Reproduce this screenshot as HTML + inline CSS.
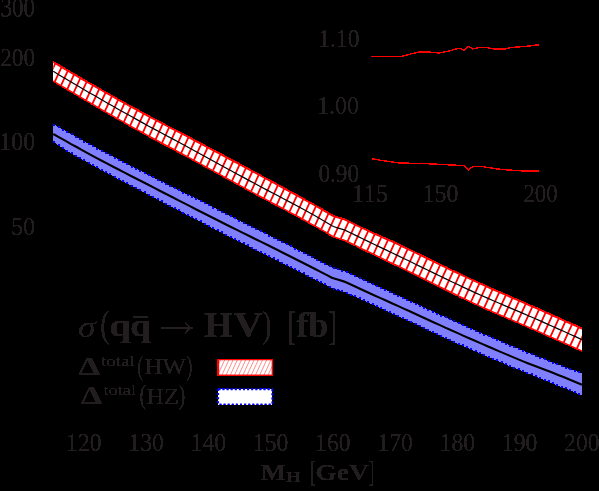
<!DOCTYPE html>
<html><head><meta charset="utf-8"><title>plot</title>
<style>
html,body{margin:0;padding:0;background:#000;}
body{width:599px;height:491px;overflow:hidden;position:relative;}
svg{position:absolute;left:0;top:0;display:block;}
text{font-family:"Liberation Serif",serif;fill:#231f20;}
</style></head><body>
<svg width="599" height="491" viewBox="0 0 599 491">
<defs>
<filter id="gth" x="0" y="0" width="599" height="491" filterUnits="userSpaceOnUse" color-interpolation-filters="sRGB"><feComponentTransfer><feFuncA type="discrete" tableValues="0 1 1 1 1 1 1 1 1 1 1 1"/></feComponentTransfer></filter>
<filter id="ath" x="0" y="0" width="599" height="491" filterUnits="userSpaceOnUse" color-interpolation-filters="sRGB"><feComponentTransfer><feFuncA type="discrete" tableValues="0 0 0 0 0 0 1 1 1 1 1 1 1 1 1 1 1 1 1 1"/></feComponentTransfer></filter>
<clipPath id="rc"><polygon points="53.3,62.1 59.2,65.7 65.2,69.2 71.1,72.7 77.1,76.2 83.0,79.7 88.9,83.1 94.9,86.5 100.8,89.9 106.8,93.3 112.7,96.6 118.6,100.0 124.6,103.3 130.5,106.6 136.5,109.8 142.4,113.0 148.3,116.2 154.3,119.4 160.2,122.5 166.1,125.6 172.1,128.7 178.0,131.8 184.0,134.9 189.9,138.0 195.8,141.2 201.8,144.4 207.7,147.5 213.7,150.7 219.6,153.8 225.5,157.0 231.5,160.2 237.4,163.3 243.4,166.5 249.3,169.7 255.2,172.9 261.2,176.1 267.1,179.3 273.1,182.5 279.0,185.8 284.9,189.0 290.9,192.2 296.8,195.5 302.8,198.8 308.7,202.1 314.6,205.4 320.6,208.8 326.5,212.2 332.4,215.7 332.6,215.8 333.4,216.2 338.4,217.8 344.3,219.6 344.6,219.7 344.8,219.8 350.3,222.4 356.2,225.2 362.1,228.1 368.1,230.9 374.0,233.7 380.0,236.3 385.9,239.0 391.8,241.6 397.8,244.3 403.7,247.2 409.7,250.0 415.6,252.9 421.5,255.8 427.5,258.7 433.4,261.6 439.4,264.5 445.3,267.3 451.2,270.2 457.2,273.0 463.1,275.8 469.1,278.6 475.0,281.4 480.9,284.1 486.9,286.7 492.8,289.4 498.7,292.0 504.7,294.6 510.6,297.2 516.6,299.7 522.5,302.3 528.4,304.9 534.4,307.5 540.3,310.1 546.3,312.8 552.2,315.4 558.1,318.1 564.1,320.7 570.0,323.4 576.0,326.0 581.9,328.7 581.9,350.9 576.0,348.2 570.0,345.5 564.1,342.9 558.1,340.2 552.2,337.6 546.3,335.0 540.3,332.3 534.4,329.7 528.4,327.1 522.5,324.5 516.6,322.0 510.6,319.4 504.7,316.9 498.7,314.3 492.8,311.8 486.9,309.1 480.9,306.5 475.0,303.8 469.1,301.0 463.1,298.1 457.2,295.3 451.2,292.4 445.3,289.4 439.4,286.5 433.4,283.5 427.5,280.6 421.5,277.6 415.6,274.6 409.7,271.7 403.7,268.8 397.8,265.9 391.8,263.1 385.9,260.2 380.0,257.3 374.0,254.4 368.1,251.6 362.1,248.7 356.2,245.8 350.3,242.9 344.8,240.3 344.6,240.2 344.3,240.1 338.4,238.2 333.4,236.6 332.6,236.2 332.4,236.1 326.5,232.6 320.6,229.1 314.6,225.7 308.7,222.4 302.8,219.1 296.8,215.8 290.9,212.7 284.9,209.5 279.0,206.3 273.1,203.2 267.1,200.0 261.2,196.9 255.2,193.7 249.3,190.5 243.4,187.3 237.4,184.1 231.5,180.8 225.5,177.6 219.6,174.3 213.7,171.0 207.7,167.8 201.8,164.5 195.8,161.3 189.9,158.0 184.0,154.8 178.0,151.6 172.1,148.4 166.1,145.3 160.2,142.1 154.3,138.9 148.3,135.7 142.4,132.4 136.5,129.2 130.5,125.9 124.6,122.6 118.6,119.2 112.7,115.8 106.8,112.4 100.8,109.0 94.9,105.6 88.9,102.1 83.0,98.6 77.1,95.1 71.1,91.6 65.2,88.1 59.2,84.5 53.3,80.9"/></clipPath>
<clipPath id="lc"><rect x="218.5" y="359.6" width="53.8" height="15.6"/></clipPath>
</defs>
<g filter="url(#gth)">
<!-- blue band -->
<polygon points="53.3,124.5 59.2,127.9 65.2,131.2 71.1,134.6 77.1,137.8 83.0,141.1 88.9,144.4 94.9,147.6 100.8,150.8 106.8,153.9 112.7,157.1 118.6,160.1 124.6,163.2 130.5,166.3 136.5,169.3 142.4,172.3 148.3,175.4 154.3,178.4 160.2,181.3 166.1,184.3 172.1,187.3 178.0,190.2 184.0,193.2 189.9,196.1 195.8,199.1 201.8,202.1 207.7,205.0 213.7,208.0 219.6,211.0 225.5,214.0 231.5,217.0 237.4,220.0 243.4,222.9 249.3,225.9 255.2,228.9 261.2,231.9 267.1,234.8 273.1,237.8 279.0,240.8 284.9,243.8 290.9,246.8 296.8,249.8 302.8,252.8 308.7,255.8 314.6,258.9 320.6,262.0 326.5,265.0 332.4,268.1 332.6,268.2 333.4,268.4 338.4,269.9 344.3,271.7 344.6,271.7 344.8,271.8 350.3,274.4 356.2,277.1 362.1,279.9 368.1,282.6 374.0,285.3 380.0,288.0 385.9,290.6 391.8,293.3 397.8,296.0 403.7,298.7 409.7,301.4 415.6,304.1 421.5,306.8 427.5,309.6 433.4,312.3 439.4,315.0 445.3,317.7 451.2,320.4 457.2,323.0 463.1,325.7 469.1,328.3 475.0,330.9 480.9,333.5 486.9,336.0 492.8,338.6 498.7,341.1 504.7,343.6 510.6,346.1 516.6,348.5 522.5,351.0 528.4,353.4 534.4,355.7 540.3,358.1 546.3,360.4 552.2,362.7 558.1,365.0 564.1,367.3 570.0,369.5 576.0,371.7 581.9,373.8 581.9,395.0 576.0,392.5 570.0,390.0 564.1,387.6 558.1,385.2 552.2,382.8 546.3,380.4 540.3,378.0 534.4,375.6 528.4,373.2 522.5,370.8 516.6,368.3 510.6,365.9 504.7,363.4 498.7,360.9 492.8,358.4 486.9,355.9 480.9,353.3 475.0,350.8 469.1,348.2 463.1,345.6 457.2,342.9 451.2,340.2 445.3,337.5 439.4,334.7 433.4,331.9 427.5,329.2 421.5,326.4 415.6,323.6 409.7,320.8 403.7,318.1 397.8,315.4 391.8,312.7 385.9,310.1 380.0,307.4 374.0,304.8 368.1,302.2 362.1,299.5 356.2,296.8 350.3,294.1 344.8,291.6 344.6,291.5 344.3,291.5 338.4,289.8 333.4,288.4 332.6,288.1 332.4,288.0 326.5,285.0 320.6,282.0 314.6,278.9 308.7,275.9 302.8,272.9 296.8,269.9 290.9,266.9 284.9,263.9 279.0,260.9 273.1,258.0 267.1,255.0 261.2,252.0 255.2,249.1 249.3,246.1 243.4,243.2 237.4,240.2 231.5,237.2 225.5,234.2 219.6,231.2 213.7,228.2 207.7,225.1 201.8,222.1 195.8,219.0 189.9,215.9 184.0,212.8 178.0,209.7 172.1,206.6 166.1,203.5 160.2,200.4 154.3,197.3 148.3,194.2 142.4,191.1 136.5,188.0 130.5,184.9 124.6,181.8 118.6,178.7 112.7,175.6 106.8,172.5 100.8,169.3 94.9,166.1 88.9,162.8 83.0,159.6 77.1,156.2 71.1,152.9 65.2,149.3 59.2,145.5 53.3,141.6" fill="#8080ff"/>
<path d="M53.3,123.7h2v2h-2zM53.3,141.3h2v2h-2zM57.6,126.1h2v2h-2zM57.6,144.1h2v2h-2zM61.9,128.6h2v2h-2zM61.9,146.9h2v2h-2zM66.2,131.0h2v2h-2zM66.2,149.6h2v2h-2zM70.5,133.4h2v2h-2zM70.5,152.1h2v2h-2zM74.8,135.8h2v2h-2zM74.8,154.5h2v2h-2zM79.1,138.1h2v2h-2zM79.1,156.9h2v2h-2zM83.4,140.5h2v2h-2zM83.4,159.3h2v2h-2zM87.7,142.8h2v2h-2zM87.7,161.7h2v2h-2zM92.0,145.2h2v2h-2zM92.0,164.1h2v2h-2zM96.3,147.5h2v2h-2zM96.3,166.4h2v2h-2zM100.6,149.8h2v2h-2zM100.6,168.7h2v2h-2zM104.9,152.1h2v2h-2zM104.9,171.0h2v2h-2zM109.2,154.4h2v2h-2zM109.2,173.3h2v2h-2zM113.5,156.6h2v2h-2zM113.5,175.5h2v2h-2zM117.8,158.8h2v2h-2zM117.8,177.8h2v2h-2zM122.1,161.0h2v2h-2zM122.1,180.0h2v2h-2zM126.4,163.3h2v2h-2zM126.4,182.2h2v2h-2zM130.7,165.5h2v2h-2zM130.7,184.5h2v2h-2zM135.0,167.7h2v2h-2zM135.0,186.7h2v2h-2zM139.3,169.9h2v2h-2zM139.3,189.0h2v2h-2zM143.6,172.1h2v2h-2zM143.6,191.3h2v2h-2zM147.9,174.2h2v2h-2zM147.9,193.5h2v2h-2zM152.2,176.4h2v2h-2zM152.2,195.8h2v2h-2zM156.5,178.6h2v2h-2zM156.5,198.0h2v2h-2zM160.8,180.7h2v2h-2zM160.8,200.3h2v2h-2zM165.1,182.9h2v2h-2zM165.1,202.5h2v2h-2zM169.4,185.0h2v2h-2zM169.4,204.8h2v2h-2zM173.7,187.2h2v2h-2zM173.7,207.0h2v2h-2zM178.0,189.3h2v2h-2zM178.0,209.3h2v2h-2zM182.3,191.5h2v2h-2zM182.3,211.5h2v2h-2zM186.6,193.6h2v2h-2zM186.6,213.7h2v2h-2zM190.9,195.7h2v2h-2zM190.9,216.0h2v2h-2zM195.2,197.9h2v2h-2zM195.2,218.2h2v2h-2zM199.5,200.0h2v2h-2zM199.5,220.4h2v2h-2zM203.8,202.2h2v2h-2zM203.8,222.6h2v2h-2zM208.1,204.3h2v2h-2zM208.1,224.8h2v2h-2zM212.4,206.5h2v2h-2zM212.4,227.0h2v2h-2zM216.7,208.6h2v2h-2zM216.7,229.2h2v2h-2zM221.0,210.8h2v2h-2zM221.0,231.4h2v2h-2zM225.3,213.0h2v2h-2zM225.3,233.6h2v2h-2zM229.6,215.1h2v2h-2zM229.6,235.8h2v2h-2zM233.9,217.3h2v2h-2zM233.9,237.9h2v2h-2zM238.2,219.5h2v2h-2zM238.2,240.1h2v2h-2zM242.5,221.6h2v2h-2zM242.5,242.2h2v2h-2zM246.8,223.8h2v2h-2zM246.8,244.4h2v2h-2zM251.1,225.9h2v2h-2zM251.1,246.5h2v2h-2zM255.4,228.1h2v2h-2zM255.4,248.7h2v2h-2zM259.7,230.2h2v2h-2zM259.7,250.8h2v2h-2zM264.0,232.4h2v2h-2zM264.0,252.9h2v2h-2zM268.3,234.5h2v2h-2zM268.3,255.1h2v2h-2zM272.6,236.7h2v2h-2zM272.6,257.2h2v2h-2zM276.9,238.8h2v2h-2zM276.9,259.4h2v2h-2zM281.2,241.0h2v2h-2zM281.2,261.5h2v2h-2zM285.5,243.2h2v2h-2zM285.5,263.7h2v2h-2zM289.8,245.3h2v2h-2zM289.8,265.8h2v2h-2zM294.1,247.5h2v2h-2zM294.1,268.0h2v2h-2zM298.4,249.7h2v2h-2zM298.4,270.2h2v2h-2zM302.7,251.9h2v2h-2zM302.7,272.4h2v2h-2zM307.0,254.1h2v2h-2zM307.0,274.6h2v2h-2zM311.3,256.3h2v2h-2zM311.3,276.8h2v2h-2zM315.6,258.5h2v2h-2zM315.6,279.0h2v2h-2zM319.9,260.7h2v2h-2zM319.9,281.1h2v2h-2zM324.2,263.0h2v2h-2zM324.2,283.3h2v2h-2zM328.5,265.2h2v2h-2zM328.5,285.5h2v2h-2zM332.8,267.2h2v2h-2zM332.8,287.5h2v2h-2zM337.1,268.4h2v2h-2zM337.1,288.7h2v2h-2zM341.4,269.7h2v2h-2zM341.4,289.9h2v2h-2zM345.7,271.3h2v2h-2zM345.7,291.5h2v2h-2zM350.0,273.3h2v2h-2zM350.0,293.5h2v2h-2zM354.3,275.3h2v2h-2zM354.3,295.4h2v2h-2zM358.6,277.3h2v2h-2zM358.6,297.4h2v2h-2zM362.9,279.3h2v2h-2zM362.9,299.3h2v2h-2zM367.2,281.3h2v2h-2zM367.2,301.2h2v2h-2zM371.5,283.2h2v2h-2zM371.5,303.1h2v2h-2zM375.8,285.1h2v2h-2zM375.8,305.0h2v2h-2zM380.1,287.1h2v2h-2zM380.1,306.9h2v2h-2zM384.4,289.0h2v2h-2zM384.4,308.9h2v2h-2zM388.7,291.0h2v2h-2zM388.7,310.8h2v2h-2zM393.0,292.9h2v2h-2zM393.0,312.7h2v2h-2zM397.3,294.8h2v2h-2zM397.3,314.6h2v2h-2zM401.6,296.8h2v2h-2zM401.6,316.6h2v2h-2zM405.9,298.7h2v2h-2zM405.9,318.6h2v2h-2zM410.2,300.7h2v2h-2zM410.2,320.5h2v2h-2zM414.5,302.7h2v2h-2zM414.5,322.5h2v2h-2zM418.8,304.6h2v2h-2zM418.8,324.6h2v2h-2zM423.1,306.6h2v2h-2zM423.1,326.6h2v2h-2zM427.4,308.6h2v2h-2zM427.4,328.6h2v2h-2zM431.7,310.6h2v2h-2zM431.7,330.6h2v2h-2zM436.0,312.5h2v2h-2zM436.0,332.6h2v2h-2zM440.3,314.5h2v2h-2zM440.3,334.6h2v2h-2zM444.6,316.4h2v2h-2zM444.6,336.6h2v2h-2zM448.9,318.4h2v2h-2zM448.9,338.6h2v2h-2zM453.2,320.3h2v2h-2zM453.2,340.6h2v2h-2zM457.5,322.2h2v2h-2zM457.5,342.5h2v2h-2zM461.8,324.1h2v2h-2zM461.8,344.4h2v2h-2zM466.1,326.0h2v2h-2zM466.1,346.3h2v2h-2zM470.4,327.9h2v2h-2zM470.4,348.2h2v2h-2zM474.7,329.8h2v2h-2zM474.7,350.1h2v2h-2zM479.0,331.7h2v2h-2zM479.0,351.9h2v2h-2zM483.3,333.5h2v2h-2zM483.3,353.8h2v2h-2zM487.6,335.4h2v2h-2zM487.6,355.6h2v2h-2zM491.9,337.2h2v2h-2zM491.9,357.5h2v2h-2zM496.2,339.0h2v2h-2zM496.2,359.3h2v2h-2zM500.5,340.9h2v2h-2zM500.5,361.1h2v2h-2zM504.8,342.7h2v2h-2zM504.8,362.9h2v2h-2zM509.1,344.5h2v2h-2zM509.1,364.7h2v2h-2zM513.4,346.2h2v2h-2zM513.4,366.5h2v2h-2zM517.7,348.0h2v2h-2zM517.7,368.2h2v2h-2zM522.0,349.8h2v2h-2zM522.0,370.0h2v2h-2zM526.3,351.5h2v2h-2zM526.3,371.7h2v2h-2zM530.6,353.2h2v2h-2zM530.6,373.4h2v2h-2zM534.9,354.9h2v2h-2zM534.9,375.2h2v2h-2zM539.2,356.6h2v2h-2zM539.2,376.9h2v2h-2zM543.5,358.3h2v2h-2zM543.5,378.7h2v2h-2zM547.8,360.0h2v2h-2zM547.8,380.4h2v2h-2zM552.1,361.7h2v2h-2zM552.1,382.1h2v2h-2zM556.4,363.4h2v2h-2zM556.4,383.9h2v2h-2zM560.7,365.0h2v2h-2zM560.7,385.6h2v2h-2zM565.0,366.6h2v2h-2zM565.0,387.4h2v2h-2zM569.3,368.2h2v2h-2zM569.3,389.1h2v2h-2zM573.6,369.8h2v2h-2zM573.6,390.9h2v2h-2zM577.9,371.3h2v2h-2zM577.9,392.7h2v2h-2z" fill="#0000ff" shape-rendering="crispEdges"/>

<polyline points="53.3,134.0 59.2,137.4 65.2,140.7 71.1,144.1 77.1,147.3 83.0,150.6 88.9,153.8 94.9,157.1 100.8,160.2 106.8,163.4 112.7,166.5 118.6,169.5 124.6,172.6 130.5,175.7 136.5,178.7 142.4,181.8 148.3,184.8 154.3,187.9 160.2,191.0 166.1,194.0 172.1,197.0 178.0,200.1 184.0,203.1 189.9,206.1 195.8,209.2 201.8,212.2 207.7,215.2 213.7,218.2 219.6,221.2 225.5,224.2 231.5,227.2 237.4,230.1 243.4,233.1 249.3,236.0 255.2,239.0 261.2,241.9 267.1,244.8 273.1,247.8 279.0,250.7 284.9,253.7 290.9,256.7 296.8,259.7 302.8,262.7 308.7,265.7 314.6,268.8 320.6,271.9 326.5,274.9 332.4,278.0 332.6,278.1 333.4,278.3 338.4,279.8 344.3,281.6 344.6,281.6 344.8,281.7 350.3,284.3 356.2,287.0 362.1,289.8 368.1,292.5 374.0,295.2 380.0,297.9 385.9,300.5 391.8,303.2 397.8,305.9 403.7,308.6 409.7,311.3 415.6,314.0 421.5,316.7 427.5,319.5 433.4,322.2 439.4,324.9 445.3,327.6 451.2,330.3 457.2,332.9 463.1,335.6 469.1,338.2 475.0,340.8 480.9,343.4 486.9,346.0 492.8,348.5 498.7,351.1 504.7,353.6 510.6,356.1 516.6,358.6 522.5,361.1 528.4,363.5 534.4,365.8 540.3,368.1 546.3,370.3 552.2,372.6 558.1,375.0 564.1,377.3 570.0,379.8 576.0,382.2 581.9,384.7" fill="none" stroke="#000" stroke-width="2.1"/>
<!-- red band -->
<polygon points="53.3,62.1 59.2,65.7 65.2,69.2 71.1,72.7 77.1,76.2 83.0,79.7 88.9,83.1 94.9,86.5 100.8,89.9 106.8,93.3 112.7,96.6 118.6,100.0 124.6,103.3 130.5,106.6 136.5,109.8 142.4,113.0 148.3,116.2 154.3,119.4 160.2,122.5 166.1,125.6 172.1,128.7 178.0,131.8 184.0,134.9 189.9,138.0 195.8,141.2 201.8,144.4 207.7,147.5 213.7,150.7 219.6,153.8 225.5,157.0 231.5,160.2 237.4,163.3 243.4,166.5 249.3,169.7 255.2,172.9 261.2,176.1 267.1,179.3 273.1,182.5 279.0,185.8 284.9,189.0 290.9,192.2 296.8,195.5 302.8,198.8 308.7,202.1 314.6,205.4 320.6,208.8 326.5,212.2 332.4,215.7 332.6,215.8 333.4,216.2 338.4,217.8 344.3,219.6 344.6,219.7 344.8,219.8 350.3,222.4 356.2,225.2 362.1,228.1 368.1,230.9 374.0,233.7 380.0,236.3 385.9,239.0 391.8,241.6 397.8,244.3 403.7,247.2 409.7,250.0 415.6,252.9 421.5,255.8 427.5,258.7 433.4,261.6 439.4,264.5 445.3,267.3 451.2,270.2 457.2,273.0 463.1,275.8 469.1,278.6 475.0,281.4 480.9,284.1 486.9,286.7 492.8,289.4 498.7,292.0 504.7,294.6 510.6,297.2 516.6,299.7 522.5,302.3 528.4,304.9 534.4,307.5 540.3,310.1 546.3,312.8 552.2,315.4 558.1,318.1 564.1,320.7 570.0,323.4 576.0,326.0 581.9,328.7 581.9,350.9 576.0,348.2 570.0,345.5 564.1,342.9 558.1,340.2 552.2,337.6 546.3,335.0 540.3,332.3 534.4,329.7 528.4,327.1 522.5,324.5 516.6,322.0 510.6,319.4 504.7,316.9 498.7,314.3 492.8,311.8 486.9,309.1 480.9,306.5 475.0,303.8 469.1,301.0 463.1,298.1 457.2,295.3 451.2,292.4 445.3,289.4 439.4,286.5 433.4,283.5 427.5,280.6 421.5,277.6 415.6,274.6 409.7,271.7 403.7,268.8 397.8,265.9 391.8,263.1 385.9,260.2 380.0,257.3 374.0,254.4 368.1,251.6 362.1,248.7 356.2,245.8 350.3,242.9 344.8,240.3 344.6,240.2 344.3,240.1 338.4,238.2 333.4,236.6 332.6,236.2 332.4,236.1 326.5,232.6 320.6,229.1 314.6,225.7 308.7,222.4 302.8,219.1 296.8,215.8 290.9,212.7 284.9,209.5 279.0,206.3 273.1,203.2 267.1,200.0 261.2,196.9 255.2,193.7 249.3,190.5 243.4,187.3 237.4,184.1 231.5,180.8 225.5,177.6 219.6,174.3 213.7,171.0 207.7,167.8 201.8,164.5 195.8,161.3 189.9,158.0 184.0,154.8 178.0,151.6 172.1,148.4 166.1,145.3 160.2,142.1 154.3,138.9 148.3,135.7 142.4,132.4 136.5,129.2 130.5,125.9 124.6,122.6 118.6,119.2 112.7,115.8 106.8,112.4 100.8,109.0 94.9,105.6 88.9,102.1 83.0,98.6 77.1,95.1 71.1,91.6 65.2,88.1 59.2,84.5 53.3,80.9" fill="#fff"/>
<path d="M34.20,40L-117.60,370M42.16,40L-109.64,370M50.12,40L-101.68,370M58.08,40L-93.72,370M66.04,40L-85.76,370M74.00,40L-77.80,370M81.96,40L-69.84,370M89.92,40L-61.88,370M97.88,40L-53.92,370M105.84,40L-45.96,370M113.80,40L-38.00,370M121.76,40L-30.04,370M129.72,40L-22.08,370M137.68,40L-14.12,370M145.64,40L-6.16,370M153.60,40L1.80,370M161.56,40L9.76,370M169.52,40L17.72,370M177.48,40L25.68,370M185.44,40L33.64,370M193.40,40L41.60,370M201.36,40L49.56,370M209.32,40L57.52,370M217.28,40L65.48,370M225.24,40L73.44,370M233.20,40L81.40,370M241.16,40L89.36,370M249.12,40L97.32,370M257.08,40L105.28,370M265.04,40L113.24,370M273.00,40L121.20,370M280.96,40L129.16,370M288.92,40L137.12,370M296.88,40L145.08,370M304.84,40L153.04,370M312.80,40L161.00,370M320.76,40L168.96,370M328.72,40L176.92,370M336.68,40L184.88,370M344.64,40L192.84,370M352.60,40L200.80,370M360.56,40L208.76,370M368.52,40L216.72,370M376.48,40L224.68,370M384.44,40L232.64,370M392.40,40L240.60,370M400.36,40L248.56,370M408.32,40L256.52,370M416.28,40L264.48,370M424.24,40L272.44,370M432.20,40L280.40,370M440.16,40L288.36,370M448.12,40L296.32,370M456.08,40L304.28,370M464.04,40L312.24,370M472.00,40L320.20,370M479.96,40L328.16,370M487.92,40L336.12,370M495.88,40L344.08,370M503.84,40L352.04,370M511.80,40L360.00,370M519.76,40L367.96,370M527.72,40L375.92,370M535.68,40L383.88,370M543.64,40L391.84,370M551.60,40L399.80,370M559.56,40L407.76,370M567.52,40L415.72,370M575.48,40L423.68,370M583.44,40L431.64,370M591.40,40L439.60,370M599.36,40L447.56,370M607.32,40L455.52,370M615.28,40L463.48,370M623.24,40L471.44,370M631.20,40L479.40,370M639.16,40L487.36,370M647.12,40L495.32,370M655.08,40L503.28,370M663.04,40L511.24,370M671.00,40L519.20,370M678.96,40L527.16,370M686.92,40L535.12,370M694.88,40L543.08,370M702.84,40L551.04,370M710.80,40L559.00,370M718.76,40L566.96,370M726.72,40L574.92,370M734.68,40L582.88,370M742.64,40L590.84,370M750.60,40L598.80,370M758.56,40L606.76,370M766.52,40L614.72,370M774.48,40L622.68,370M782.44,40L630.64,370" stroke="#ff0000" stroke-width="1.8" fill="none" clip-path="url(#rc)"/>
<polyline points="53.3,62.1 59.2,65.7 65.2,69.2 71.1,72.7 77.1,76.2 83.0,79.7 88.9,83.1 94.9,86.5 100.8,89.9 106.8,93.3 112.7,96.6 118.6,100.0 124.6,103.3 130.5,106.6 136.5,109.8 142.4,113.0 148.3,116.2 154.3,119.4 160.2,122.5 166.1,125.6 172.1,128.7 178.0,131.8 184.0,134.9 189.9,138.0 195.8,141.2 201.8,144.4 207.7,147.5 213.7,150.7 219.6,153.8 225.5,157.0 231.5,160.2 237.4,163.3 243.4,166.5 249.3,169.7 255.2,172.9 261.2,176.1 267.1,179.3 273.1,182.5 279.0,185.8 284.9,189.0 290.9,192.2 296.8,195.5 302.8,198.8 308.7,202.1 314.6,205.4 320.6,208.8 326.5,212.2 332.4,215.7 332.6,215.8 333.4,216.2 338.4,217.8 344.3,219.6 344.6,219.7 344.8,219.8 350.3,222.4 356.2,225.2 362.1,228.1 368.1,230.9 374.0,233.7 380.0,236.3 385.9,239.0 391.8,241.6 397.8,244.3 403.7,247.2 409.7,250.0 415.6,252.9 421.5,255.8 427.5,258.7 433.4,261.6 439.4,264.5 445.3,267.3 451.2,270.2 457.2,273.0 463.1,275.8 469.1,278.6 475.0,281.4 480.9,284.1 486.9,286.7 492.8,289.4 498.7,292.0 504.7,294.6 510.6,297.2 516.6,299.7 522.5,302.3 528.4,304.9 534.4,307.5 540.3,310.1 546.3,312.8 552.2,315.4 558.1,318.1 564.1,320.7 570.0,323.4 576.0,326.0 581.9,328.7" fill="none" stroke="#ff0000" stroke-width="1.6"/>
<polyline points="53.3,80.9 59.2,84.5 65.2,88.1 71.1,91.6 77.1,95.1 83.0,98.6 88.9,102.1 94.9,105.6 100.8,109.0 106.8,112.4 112.7,115.8 118.6,119.2 124.6,122.6 130.5,125.9 136.5,129.2 142.4,132.4 148.3,135.7 154.3,138.9 160.2,142.1 166.1,145.3 172.1,148.4 178.0,151.6 184.0,154.8 189.9,158.0 195.8,161.3 201.8,164.5 207.7,167.8 213.7,171.0 219.6,174.3 225.5,177.6 231.5,180.8 237.4,184.1 243.4,187.3 249.3,190.5 255.2,193.7 261.2,196.9 267.1,200.0 273.1,203.2 279.0,206.3 284.9,209.5 290.9,212.7 296.8,215.8 302.8,219.1 308.7,222.4 314.6,225.7 320.6,229.1 326.5,232.6 332.4,236.1 332.6,236.2 333.4,236.6 338.4,238.2 344.3,240.1 344.6,240.2 344.8,240.3 350.3,242.9 356.2,245.8 362.1,248.7 368.1,251.6 374.0,254.4 380.0,257.3 385.9,260.2 391.8,263.1 397.8,265.9 403.7,268.8 409.7,271.7 415.6,274.6 421.5,277.6 427.5,280.6 433.4,283.5 439.4,286.5 445.3,289.4 451.2,292.4 457.2,295.3 463.1,298.1 469.1,301.0 475.0,303.8 480.9,306.5 486.9,309.1 492.8,311.8 498.7,314.3 504.7,316.9 510.6,319.4 516.6,322.0 522.5,324.5 528.4,327.1 534.4,329.7 540.3,332.3 546.3,335.0 552.2,337.6 558.1,340.2 564.1,342.9 570.0,345.5 576.0,348.2 581.9,350.9" fill="none" stroke="#ff0000" stroke-width="1.2"/>
<polyline points="53.3,71.3 59.2,74.9 65.2,78.4 71.1,81.9 77.1,85.4 83.0,88.9 88.9,92.4 94.9,95.8 100.8,99.2 106.8,102.7 112.7,106.0 118.6,109.4 124.6,112.8 130.5,116.1 136.5,119.4 142.4,122.6 148.3,125.9 154.3,129.1 160.2,132.3 166.1,135.5 172.1,138.6 178.0,141.8 184.0,145.0 189.9,148.2 195.8,151.5 201.8,154.7 207.7,158.0 213.7,161.2 219.6,164.5 225.5,167.7 231.5,171.0 237.4,174.2 243.4,177.4 249.3,180.6 255.2,183.8 261.2,187.0 267.1,190.1 273.1,193.2 279.0,196.3 284.9,199.5 290.9,202.6 296.8,205.8 302.8,209.0 308.7,212.3 314.6,215.6 320.6,219.0 326.5,222.5 332.4,225.9 332.6,226.0 333.4,226.5 338.4,228.1 344.3,229.9 344.6,230.0 344.8,230.1 350.3,232.8 356.2,235.6 362.1,238.5 368.1,241.4 374.0,244.2 380.0,247.1 385.9,249.9 391.8,252.8 397.8,255.6 403.7,258.5 409.7,261.3 415.6,264.2 421.5,267.1 427.5,270.0 433.4,272.9 439.4,275.8 445.3,278.6 451.2,281.5 457.2,284.3 463.1,287.1 469.1,289.9 475.0,292.6 480.9,295.3 486.9,297.9 492.8,300.5 498.7,303.0 504.7,305.6 510.6,308.1 516.6,310.6 522.5,313.1 528.4,315.7 534.4,318.3 540.3,320.9 546.3,323.6 552.2,326.2 558.1,328.9 564.1,331.5 570.0,334.2 576.0,336.9 581.9,339.6" fill="none" stroke="#000" stroke-width="1.2"/>
<!-- inset -->
<polyline points="371.2,56.4 401.7,56.3 411,53.9 420,51.8 427.6,51.8 438.5,53.0 448,51.3 458.3,48.4 461,48.6 464.2,50.4 468.4,46.4 472.5,48.9 480,47.5 486.7,47.5 493.4,48.9 505,48.9 511.8,47.5 521.8,46.7 530,45.9 539.3,44.7" fill="none" stroke="#ff0000" stroke-width="1.4" shape-rendering="crispEdges"/>
<polyline points="371.7,158.7 385,161.0 398.4,162.9 431.8,163.9 451.8,165.0 464.2,165.6 468.4,170.0 472.5,166.7 483.4,166.7 496.7,168.9 508.4,170.0 523.5,171.0 539.3,171.0" fill="none" stroke="#ff0000" stroke-width="1.4" shape-rendering="crispEdges"/>
<!-- legend boxes -->
<rect x="218.5" y="359.6" width="53.8" height="15.6" fill="#fff" stroke="#ff0000" stroke-width="1.3"/>
<rect x="218.4" y="389.5" width="53.6" height="14.8" fill="#fff" stroke="#0000ff" stroke-width="1.4" stroke-dasharray="2 2.1"/>
</g>
<path d="M221.82,357L212.16,378M226.02,357L216.36,378M230.22,357L220.56,378M234.42,357L224.76,378M238.62,357L228.96,378M242.82,357L233.16,378M247.02,357L237.36,378M251.22,357L241.56,378M255.42,357L245.76,378M259.62,357L249.96,378M263.82,357L254.16,378M268.02,357L258.36,378M272.22,357L262.56,378M276.42,357L266.76,378M280.62,357L270.96,378M284.82,357L275.16,378M289.02,357L279.36,378M293.22,357L283.56,378M297.42,357L287.76,378M301.62,357L291.96,378" stroke="#ff0000" stroke-width="0.45" fill="none" clip-path="url(#lc)"/>
<g filter="url(#ath)">
<g style="opacity:0.999">
<text id="y300" transform="translate(34.91,16.60) scale(1.0082,1.2904)" font-size="22.8" text-anchor="end" font-weight="normal" font-style="normal">300</text>
<text id="y200" transform="translate(35.17,65.76) scale(1.0233,1.1141)" font-size="22.8" text-anchor="end" font-weight="normal" font-style="normal">200</text>
<text id="y100" transform="translate(35.23,150.26) scale(1.0535,1.1271)" font-size="22.8" text-anchor="end" font-weight="normal" font-style="normal">100</text>
<text id="y50" transform="translate(35.09,235.41) scale(1.0619,1.1484)" font-size="22.8" text-anchor="end" font-weight="normal" font-style="normal">50</text>
<text id="x120" transform="translate(83.88,450.56) scale(1.0425,1.1270)" font-size="22.8" text-anchor="middle" font-weight="normal" font-style="normal">120</text>
<text id="i110" transform="translate(359.53,46.75) scale(1.0382,1.1401)" font-size="22.8" text-anchor="end" font-weight="normal" font-style="normal">1.10</text>
<text id="i100" transform="translate(359.13,113.88) scale(1.0547,1.1040)" font-size="22.8" text-anchor="end" font-weight="normal" font-style="normal">1.00</text>
<text id="i090" transform="translate(359.12,182.26) scale(1.0211,1.1141)" font-size="22.8" text-anchor="end" font-weight="normal" font-style="normal">0.90</text>
<text id="i115" transform="translate(369.99,201.54) scale(1.0786,1.0700)" font-size="22.8" text-anchor="middle" font-weight="normal" font-style="normal">115</text>
<text id="i150" transform="translate(440.54,201.57) scale(1.0489,1.0676)" font-size="22.8" text-anchor="middle" font-weight="normal" font-style="normal">150</text>
<text id="i200" transform="translate(540.60,201.57) scale(1.0064,1.0676)" font-size="22.8" text-anchor="middle" font-weight="normal" font-style="normal">200</text>
<text id="t_sigma" transform="translate(77.94,336.80) scale(1.0530,0.8865)" font-size="34" text-anchor="start" font-weight="normal" font-style="italic">σ</text>
<text id="t_lp" transform="translate(100.15,336.99) scale(0.8325,1.1001)" font-size="34" text-anchor="start" font-weight="normal" font-style="normal">(</text>
<text id="t_q1" transform="translate(109.34,336.26) scale(1.1469,0.9354)" font-size="34" text-anchor="start" font-weight="bold" font-style="normal">q</text>
<text id="t_q2" transform="translate(129.96,336.26) scale(1.1139,0.9354)" font-size="34" text-anchor="start" font-weight="bold" font-style="normal">q</text>
<text id="t_H" transform="translate(203.96,337.06) scale(1.0843,1.0501)" font-size="34" text-anchor="start" font-weight="bold" font-style="normal">H</text>
<text id="t_V" transform="translate(233.51,336.93) scale(1.2021,1.0416)" font-size="34" text-anchor="start" font-weight="bold" font-style="normal">V</text>
<text id="t_rp" transform="translate(262.24,337.09) scale(0.8066,1.1040)" font-size="34" text-anchor="start" font-weight="normal" font-style="normal">)</text>
<text id="t_lb" transform="translate(287.47,339.56) scale(0.7447,1.1747)" font-size="34" text-anchor="start" font-weight="normal" font-style="normal">[</text>
<text id="t_fb" transform="translate(296.22,336.81) scale(1.0674,1.0397)" font-size="34" text-anchor="start" font-weight="bold" font-style="normal">fb</text>
<text id="t_rb" transform="translate(328.34,339.52) scale(0.7461,1.1835)" font-size="34" text-anchor="start" font-weight="normal" font-style="normal">]</text>
<text id="l1_D" transform="translate(78.62,374.51) scale(1.5178,1.0965)" font-size="23" text-anchor="start" font-weight="bold" font-style="normal">Δ</text>
<text id="l1_tot" transform="translate(100.97,366.41) scale(1.2618,0.9842)" font-size="15" text-anchor="start" font-weight="normal" font-style="normal">total</text>
<text id="l1_lp" transform="translate(137.39,374.96) scale(0.7240,1.1998)" font-size="23" text-anchor="start" font-weight="normal" font-style="normal">(</text>
<text id="l1_HW" transform="translate(144.13,374.17) scale(1.0962,0.9946)" font-size="23" text-anchor="start" font-weight="normal" font-style="normal">HW</text>
<text id="l1_rp" transform="translate(186.57,374.96) scale(0.7621,1.1998)" font-size="23" text-anchor="start" font-weight="normal" font-style="normal">)</text>
<text id="l2_D" transform="translate(80.87,403.53) scale(1.4948,1.0965)" font-size="23" text-anchor="start" font-weight="bold" font-style="normal">Δ</text>
<text id="l2_tot" transform="translate(103.44,395.36) scale(1.2230,0.9929)" font-size="15" text-anchor="start" font-weight="normal" font-style="normal">total</text>
<text id="l2_lp" transform="translate(139.40,404.24) scale(0.8739,1.2292)" font-size="23" text-anchor="start" font-weight="normal" font-style="normal">(</text>
<text id="l2_HZ" transform="translate(146.18,403.55) scale(1.0727,1.0000)" font-size="23" text-anchor="start" font-weight="normal" font-style="normal">HZ</text>
<text id="l2_rp" transform="translate(178.78,403.97) scale(0.8503,1.2151)" font-size="23" text-anchor="start" font-weight="normal" font-style="normal">)</text>
<text id="x_M" transform="translate(260.73,479.95) scale(1.1599,1.0202)" font-size="23" text-anchor="start" font-weight="bold" font-style="normal">M</text>
<text id="x_Hs" transform="translate(285.88,482.10) scale(1.2508,1.0256)" font-size="15" text-anchor="start" font-weight="bold" font-style="normal">H</text>
<text id="x_lb" transform="translate(309.98,481.01) scale(0.7274,1.3152)" font-size="23" text-anchor="start" font-weight="normal" font-style="normal">[</text>
<text id="x_GeV" transform="translate(315.20,479.63) scale(1.2038,1.0216)" font-size="23" text-anchor="start" font-weight="bold" font-style="normal">GeV</text>
<text id="x_rb" transform="translate(368.70,481.01) scale(0.7335,1.3152)" font-size="23" text-anchor="start" font-weight="normal" font-style="normal">]</text>
<text transform="translate(146.13,450.56) scale(1.0425,1.1270)" font-size="22.8" text-anchor="middle">130</text>
<text transform="translate(208.38,450.56) scale(1.0425,1.1270)" font-size="22.8" text-anchor="middle">140</text>
<text transform="translate(270.62,450.56) scale(1.0425,1.1270)" font-size="22.8" text-anchor="middle">150</text>
<text transform="translate(332.87,450.56) scale(1.0425,1.1270)" font-size="22.8" text-anchor="middle">160</text>
<text transform="translate(395.12,450.56) scale(1.0425,1.1270)" font-size="22.8" text-anchor="middle">170</text>
<text transform="translate(457.36,450.56) scale(1.0425,1.1270)" font-size="22.8" text-anchor="middle">180</text>
<text transform="translate(519.61,450.56) scale(1.0425,1.1270)" font-size="22.8" text-anchor="middle">190</text>
<text transform="translate(581.86,450.56) scale(1.0425,1.1270)" font-size="22.8" text-anchor="middle">200</text>
</g>
<g fill="none" stroke="#231f20" stroke-width="1.3">
<path d="M133.3,316.8H147.8"/>
<path d="M161,327.9H191.2"/>
<path d="M185.4,322.3Q187.3,326.6 191.6,327.9Q187.3,329.2 185.4,333.5" stroke-width="1.2"/>
</g>
</g>
</svg>
</body></html>
